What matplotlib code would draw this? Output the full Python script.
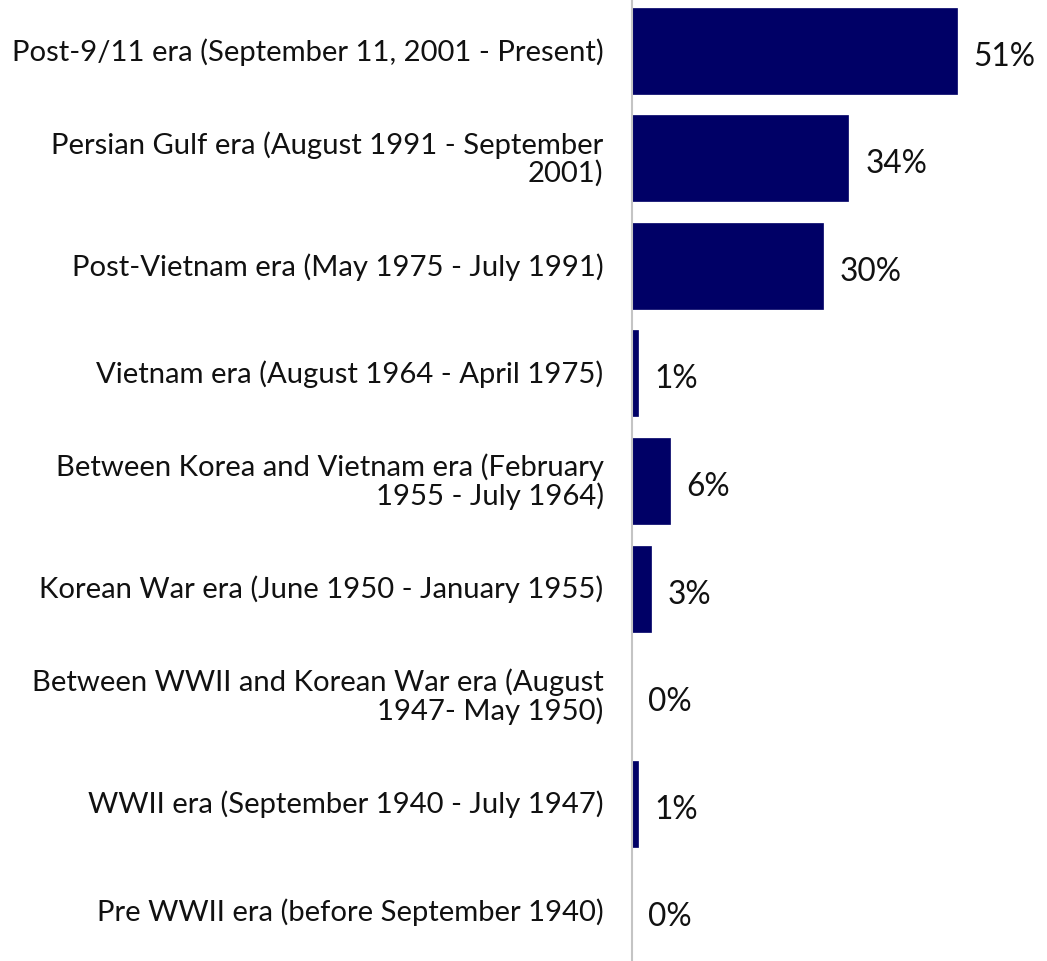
import matplotlib
matplotlib.use("Agg")
import matplotlib.pyplot as plt

categories = [
    "Post-9/11 era (September 11, 2001 - Present)",
    "Persian Gulf era (August 1991 - September\n2001)",
    "Post-Vietnam era (May 1975 - July 1991)",
    "Vietnam era (August 1964 - April 1975)",
    "Between Korea and Vietnam era (February\n1955 - July 1964)",
    "Korean War era (June 1950 - January 1955)",
    "Between WWII and Korean War era (August\n1947- May 1950)",
    "WWII era (September 1940 - July 1947)",
    "Pre WWII era (before September 1940)",
]
values = [51, 34, 30, 1, 6, 3, 0, 1, 0]
value_labels = ["51%", "34%", "30%", "1%", "6%", "3%", "0%", "1%", "0%"]

plt.rcParams['font.family'] = ['Lato', 'DejaVu Sans']

fig = plt.figure(figsize=(10.47, 9.62), dpi=100)
ax = fig.add_axes([631.5 / 1047, 0, 1 - 631.5 / 1047, 1])

pos = list(range(len(categories)))
bars = ax.barh(pos, values, height=0.8, color="#000066", edgecolor="#000066", linewidth=0.5)

ax.set_xlim(0, 65.2)
ax.set_ylim(8.4624, -0.4806)

ax.set_yticks(pos)
ax.set_yticklabels(categories, fontsize=21.1, color="#111111")
for t in ax.get_yticklabels():
    t.set_linespacing(1.06)
    t.set_verticalalignment("center")
ax.tick_params(axis="y", length=0, pad=20)
ax.set_xticks([])

for spine in ["top", "right", "bottom"]:
    ax.spines[spine].set_visible(False)
ax.spines["left"].set_color("#c4c4c4")
ax.spines["left"].set_linewidth(1.5)

for p, v, lab in zip(pos, values, value_labels):
    ax.annotate(lab, xy=(v, p), xytext=(12.2, -1.5), textcoords="offset points",
                ha="left", va="center_baseline", fontsize=22.8, color="#111111")

fig.savefig("out.png", dpi=100)
